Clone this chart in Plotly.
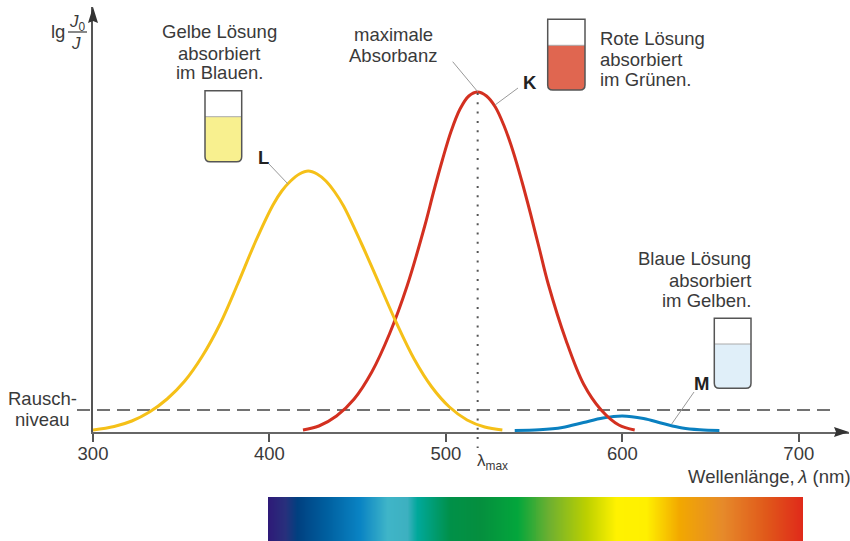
import numpy as np
import plotly.graph_objects as go

W, H = 850, 541
FONT = "Liberation Sans"
INK = "#3a3a3a"

# Curve readings: wavelength (nm) and absorbance height (arbitrary units)
yellow_nm = [300, 312, 322, 332, 342, 352, 362, 372, 382, 392, 402, 407, 412, 417, 422, 427, 432, 437, 442, 452, 462, 472, 482, 492, 502, 512, 522, 532]
yellow_abs = [2, 5.5, 11, 20, 33, 51, 76, 108, 148, 190, 227, 241, 251, 258, 261, 258, 251, 240, 226, 189, 149, 109, 73, 45, 25, 12, 5, 2]
red_nm = [419, 428, 438, 448, 458, 468, 478, 488, 493, 498, 503, 508, 513, 518, 523, 528, 533, 538, 543, 548, 553, 558, 568, 578, 588, 598, 607]
red_abs = [2, 6, 16, 33, 60, 98, 146, 206, 240, 272, 301, 323, 336, 340, 336, 325, 306, 281, 251, 218, 183, 148, 92, 48, 22, 7, 2]
blue_nm = [539, 553, 566, 578, 589, 600, 612, 623, 634, 644, 655]
blue_abs = [1.5, 2.2, 4.5, 9.5, 14, 16, 13.5, 8.5, 4, 2.2, 1.5]
noise_level = 22
lambda_max_nm = 518
x_ticks = [300, 400, 500, 600, 700]

# Spectrum bar: pixel-wide positions and colour stops
spectrum_pos = [268, 285, 297, 327, 360, 387, 407, 417, 450, 480, 517, 550, 587, 617, 647, 680, 723, 767, 803]
spectrum_col = ["#2e1a78", "#28307c", "#004080", "#0060a0", "#0a84c4", "#3fb5c8", "#3db0c0", "#00a89a",
                "#009048", "#058f3e", "#03a63c", "#6eb030", "#bcd000", "#fff200", "#fff000", "#f2a800",
                "#e68a2a", "#e0581a", "#e02a1a"]


def px(x):
    return x / W


def py(y):
    return 1 - y / H


fig = go.Figure()


def line(x, y, color, width):
    fig.add_trace(go.Scatter(x=x, y=y, mode="lines", cliponaxis=False, hoverinfo="skip", showlegend=False,
                             line=dict(color=color, width=width, shape="spline", smoothing=1.0)))


line(blue_nm, blue_abs, "#0a80c0", 3)
line(red_nm, red_abs, "#d33020", 3)
line(yellow_nm, yellow_abs, "#f5c018", 3)

s_x = np.arange(268, 804)
fig.add_trace(go.Heatmap(x=s_x, y=[0], z=[s_x], xaxis="x2", yaxis="y2", showscale=False, hoverinfo="skip",
                         zmin=268, zmax=803,
                         colorscale=[[(p - 268) / 535, c] for p, c in zip(spectrum_pos, spectrum_col)]))

annotations = []


def text(x, y, s, anchor="center", size=18.5, color=INK, **kw):
    annotations.append(dict(x=px(x), y=py(y), xref="paper", yref="paper", text=s, showarrow=False,
                            xanchor=anchor, yanchor="middle", borderpad=0,
                            font=dict(family=FONT, size=size, color=color), **kw))


for s, y in [("Gelbe Lösung", 32), ("absorbiert", 53), ("im Blauen.", 73)]:
    text(219, y, s)
for s, y in [("maximale", 34), ("Absorbanz", 56)]:
    text(393, y, s)
for s, y in [("Rote Lösung", 38), ("absorbiert", 59), ("im Grünen.", 80)]:
    text(599, y, s, "left")
for s, y in [("Blaue Lösung", 258), ("absorbiert", 280), ("im Gelben.", 300)]:
    text(752, y, s, "right")
for s, y in [("Rausch-", 398), ("niveau", 419)]:
    text(42, y, s)
text(263, 157, "<b>L</b>", color="#222222")
text(530, 83, "<b>K</b>", color="#222222")
text(701, 383, "<b>M</b>", color="#222222")
text(58, 32, "lg")
text(77, 23, "<i>J</i><sub>0</sub>", size=17)
text(76, 43, "<i>J</i>", size=17)
text(493, 462, "λ<sub>max</sub>", size=17)
text(687, 477, "Wellenlänge,\u2009<i>λ</i> (nm)", "left")

shapes = [
    dict(type="line", xref="paper", yref="y", x0=px(77), x1=px(830), y0=noise_level, y1=noise_level, layer="below",
         line=dict(color="#444444", width=1.5, dash="13px,7px")),
    dict(type="line", xref="x", yref="paper", x0=lambda_max_nm, x1=lambda_max_nm, y0=py(93), y1=py(448), layer="above",
         line=dict(color="#555555", width=2, dash="2px,7.3px")),
]


def path(points, close=True, **kw):
    d = ""
    for i, p in enumerate(points):
        if p[0] == "Q":
            d += f" Q {px(p[1])} {py(p[2])} {px(p[3])} {py(p[4])}"
        else:
            d += f" {'M' if i == 0 else 'L'} {px(p[0])} {py(p[1])}"
    shapes.append(dict(type="path", xref="paper", yref="paper", path=d + (" Z" if close else ""), **kw))


def beaker(x0, x1, y0, yl, y1, fill):
    r = 5
    cup = lambda top: [(x0, top), (x0, y1 - r), ("Q", x0, y1, x0 + r, y1), (x1 - r, y1), ("Q", x1, y1, x1, y1 - r), (x1, top)]
    path(cup(yl), fillcolor=fill, line=dict(width=0))
    path([(x0, yl), (x1, yl)], close=False, line=dict(color="#aaaaaa", width=1))
    path(cup(y0), fillcolor="rgba(0,0,0,0)", line=dict(color="#555555", width=1.5))


beaker(205, 241.7, 90.7, 116.7, 161.7, "#f8f08f")
beaker(547.7, 585, 19.3, 45.3, 90, "#e06650")
beaker(714.3, 751, 318.3, 344, 388.3, "#e0eff9")

for a, b in [((269, 164), (288, 184)), ((518, 88), (495, 105)), ((452.7, 61.7), (477.7, 91.7)), ((694, 392), (671.7, 424))]:
    path([a, b], close=False, line=dict(color="#999999", width=1))

# fraction bar and axis arrow heads
path([(68, 32), (87, 32)], close=False, line=dict(color=INK, width=1.2))
path([(93, 7), (88, 23), (93, 21), (98, 23)], fillcolor="#333333", line=dict(width=0))
path([(849, 432), (834, 427), (836, 432), (834, 437)], fillcolor="#333333", line=dict(width=0))

fig.update_layout(
    width=W, height=H, margin=dict(l=0, r=0, t=0, b=0, autoexpand=False), paper_bgcolor="white", plot_bgcolor="white",
    showlegend=False, annotations=annotations, shapes=shapes,
    xaxis=dict(domain=[93 / W, 849 / W], range=[300, 300 + 756 / 1.7645], tickvals=x_ticks, ticks="outside",
               ticklen=8, tickcolor="#555555", tickwidth=1.5, showline=True, linecolor="#666666", linewidth=1.5,
               showgrid=False, zeroline=False, automargin=False, ticklabelstandoff=-4,
               tickfont=dict(family=FONT, size=18.5, color=INK)),
    yaxis=dict(domain=[1 - 432 / H, 1 - 7 / H], range=[0, 425], showline=True, linecolor="#555555", linewidth=1.5,
               showgrid=False, zeroline=False, automargin=False, showticklabels=False, ticks=""),
    xaxis2=dict(domain=[268 / W, 803 / W], range=[267.5, 803.5], visible=False, anchor="y2", automargin=False),
    yaxis2=dict(domain=[0, 44 / H], range=[-0.5, 0.5], visible=False, anchor="x2", automargin=False),
)

fig.write_html("out.html", config=dict(displayModeBar=False),
               post_script="document.body.style.margin='0';document.documentElement.style.overflow='hidden';")
